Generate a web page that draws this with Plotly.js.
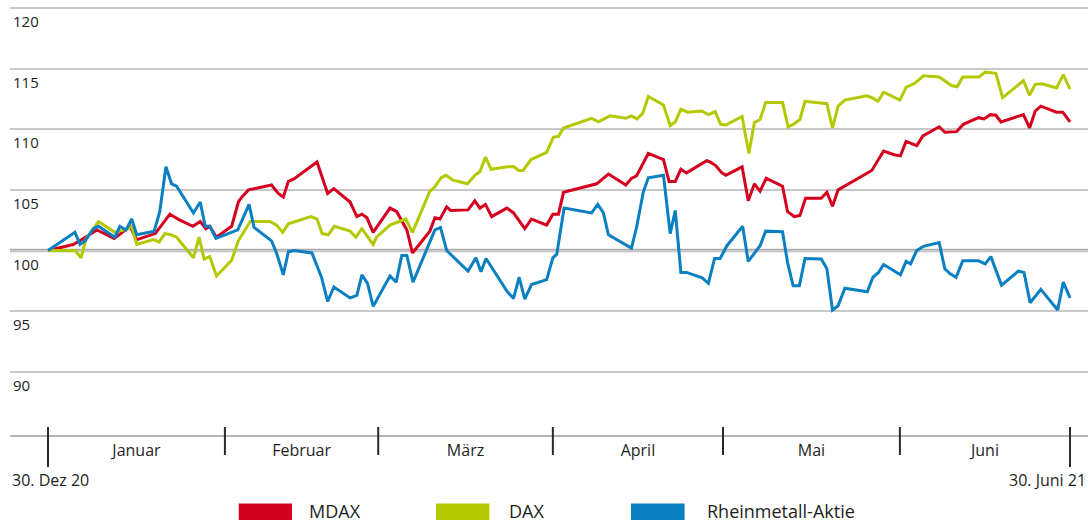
<!DOCTYPE html>
<html>
<head>
<meta charset="utf-8">
<script src="https://cdn.plot.ly/plotly-3.0.1.min.js"></script>
<style>
  html, body { margin: 0; padding: 0; background: #fff; }
  #chart { width: 1090px; height: 524px; }
</style>
</head>
<body>
<div id="chart"></div>
<script>
// x = days since 30 Dec 2020, y = index (30.12.2020 = 100)
const mdaxDays = [0,4.5,6.3,8.7,11.8,14.6,15.8,19.1,21.7,23.5,25.8,27.1,28.1,28.8,30.0,32.7,33.9,34.5,35.7,39.8,41.0,41.9,42.8,43.8,47.9,49.8,50.9,53.8,55.0,55.9,56.8,57.9,60.9,62.1,63.9,64.9,68.0,68.9,69.8,71.0,71.7,74.8,76.0,76.9,77.9,79.0,81.7,82.9,84.9,86.1,88.8,89.9,90.9,91.8,97.7,99.8,102.9,103.9,104.8,106.9,109.6,110.6,111.7,112.7,113.7,117.3,117.9,118.9,120.0,120.7,123.6,124.7,125.8,126.8,127.9,130.8,131.7,132.9,133.9,134.9,137.7,138.7,139.7,140.7,146.7,148.8,150.7,151.8,152.8,154.7,155.8,158.7,159.7,160.8,161.8,163.0,165.7,166.7,167.8,168.8,169.7,173.7,174.8,175.8,176.8,179.6,180.7,182];
const mdaxValues = [100.0,100.5,101.0,101.7,101.0,102.0,100.9,101.4,103.0,102.5,102.0,102.4,101.8,102.0,101.1,102.0,104.0,104.4,105.0,105.4,104.7,104.4,105.7,105.9,107.3,104.7,105.1,104.0,102.8,103.0,102.7,101.5,103.5,103.2,101.7,99.8,101.6,102.7,102.6,103.6,103.3,103.35,104.1,103.5,103.8,102.8,103.5,103.1,101.8,102.6,102.1,103.0,103.0,104.8,105.5,106.3,105.4,105.95,106.15,108.0,107.5,105.7,105.7,106.7,106.4,107.4,107.3,107.0,106.4,106.2,106.9,104.1,105.5,104.9,105.95,105.3,103.2,102.8,102.9,104.3,104.3,104.8,103.65,105.0,106.6,108.2,107.9,107.8,109.0,108.65,109.45,110.2,109.75,109.8,109.8,110.4,110.95,110.85,111.2,111.15,110.6,111.2,110.1,111.5,111.9,111.4,111.4,110.6];

const daxDays = [0,4.8,5.9,6.8,9.0,11.9,14.3,14.9,15.8,18.8,19.8,20.8,21.9,22.9,25.9,26.9,27.8,28.8,30.0,32.7,33.9,36.0,39.5,40.7,41.8,42.8,46.8,47.9,48.8,49.9,51.0,53.8,54.8,55.9,57.9,58.5,60.9,63.7,64.9,68.0,68.8,70.0,70.9,72.1,74.7,76.0,76.9,77.9,78.9,81.8,83.0,83.8,84.6,86.0,88.8,90.0,90.9,91.8,96.8,98.0,100.1,102.9,103.9,104.9,105.9,106.9,109.6,110.8,111.7,112.7,113.9,116.4,117.6,118.8,119.8,120.7,123.6,124.8,125.8,126.8,127.8,130.8,131.8,132.7,133.9,134.8,138.7,139.7,140.7,141.9,145.8,146.7,147.8,148.8,151.7,152.8,154.4,155.9,158.7,160.9,161.9,162.9,165.8,166.9,168.8,170.0,173.7,174.8,175.8,177.0,179.6,180.8,182];
const daxValues = [100.0,100.0,99.4,101.0,102.4,101.5,101.8,102.0,100.5,100.9,100.7,101.4,101.3,101.1,99.4,101.1,99.3,99.5,97.9,99.2,100.8,102.4,102.4,102.1,101.5,102.2,102.8,102.6,101.4,101.3,102.0,101.6,101.1,101.8,100.5,101.1,102.1,102.6,101.5,104.9,105.2,106.0,106.2,105.8,105.5,106.2,106.5,107.7,106.7,106.9,106.9,106.6,106.6,107.5,108.1,109.35,109.4,110.1,110.9,110.6,111.1,110.9,111.1,110.85,111.3,112.7,112.0,110.3,110.6,111.65,111.4,111.5,111.2,111.45,110.4,110.35,111.05,108.0,110.55,110.8,112.2,112.2,110.2,110.4,110.8,112.3,112.1,110.1,111.9,112.4,112.75,112.6,112.3,113.05,112.4,113.45,113.8,114.4,114.3,113.6,113.5,114.3,114.3,114.7,114.6,112.6,114.0,112.8,113.7,113.75,113.4,114.5,113.3];

const rheinDays = [0,4.8,5.7,6.6,8.1,9.0,11.9,12.8,13.9,14.9,15.8,18.9,19.9,21.0,22.0,22.9,25.9,27.1,28.0,28.8,29.9,32.7,33.8,35.8,36.7,39.8,40.7,41.9,42.8,43.8,47.0,48.7,49.8,50.9,53.8,55.0,55.9,56.9,57.9,60.9,62.0,63.0,63.9,65.0,68.9,69.9,71.0,74.8,76.2,77.1,78.0,81.8,82.9,83.9,84.9,86.1,88.8,89.9,90.6,91.9,96.8,97.9,98.9,99.8,103.9,104.8,106.0,106.9,109.6,110.8,111.7,112.7,113.7,116.5,117.6,118.7,119.7,120.9,123.7,124.7,126.8,127.8,130.8,131.7,132.7,133.8,134.8,137.7,138.7,139.7,140.7,141.9,145.9,146.9,147.9,148.8,151.8,152.8,153.6,154.7,155.9,158.7,159.7,160.6,161.7,162.9,165.7,166.9,167.9,169.8,172.8,173.8,174.9,176.8,179.8,180.8,182];
const rheinValues = [100.0,101.5,100.5,100.8,101.8,102.0,101.1,102.0,101.7,102.6,101.3,101.6,103.2,106.9,105.5,105.3,103.1,104.0,102.0,102.0,101.0,101.5,101.7,103.8,101.9,100.8,99.8,98.0,99.9,100.0,99.8,97.8,95.8,97.0,96.1,96.3,98.0,97.3,95.4,97.9,97.4,99.6,99.6,97.4,101.7,101.9,100.0,98.3,99.4,98.25,99.35,96.6,96.05,97.8,96.0,97.2,97.6,99.4,99.7,103.5,103.1,103.8,103.1,101.3,100.2,101.9,104.8,106.0,106.2,101.4,103.3,98.2,98.2,97.75,97.3,99.35,99.35,100.4,102.0,99.1,100.4,101.6,101.55,99.0,97.1,97.1,99.35,99.3,98.5,95.1,95.45,96.9,96.6,97.8,98.2,98.85,98.0,99.1,98.9,100.0,100.35,100.65,98.5,98.1,97.8,99.15,99.15,98.9,99.5,97.15,98.3,98.2,95.7,96.8,95.1,97.4,96.1];

const seriesNames = ["MDAX", "DAX", "Rheinmetall-Aktie"];
const seriesColors = ["#d5001f", "#b4c800", "#0a80c2"];

const monthNames = ["Januar", "Februar", "März", "April", "Mai", "Juni"];
const monthEdges = [0, 31.5, 58.8, 89.9, 120.2, 151.7, 182];
const yTicks = [90, 95, 100, 105, 110, 115, 120];
const startLabel = "30. Dez 20";
const endLabel = "30. Juni 21";

const FONT = '"Open Sans", "Noto Sans", sans-serif';
const TXT = "#1e1e1e";

const xs = [mdaxDays, daxDays, rheinDays];
const ys = [mdaxValues, daxValues, rheinValues];
const traces = seriesNames.map((n, i) => ({
  type: "scatter", mode: "lines", name: n,
  x: xs[i], y: ys[i],
  line: { color: seriesColors[i], width: 3, shape: "linear" },
  showlegend: false, hoverinfo: "skip"
}));

const monthMids = monthNames.map((_, i) => (monthEdges[i] + monthEdges[i + 1]) / 2);

// plot area: top 3px, bottom at 435px (height 432)
const PH = 432;
const py = (px) => (435 - px) / PH;   // pixel row below the plot -> paper y

const shapes = [];
shapes.push({ type: "line", xref: "paper", yref: "y", x0: 0, x1: 1, y0: 100, y1: 100,
  line: { color: "#ababab", width: 3.5 }, layer: "below" });
monthEdges.forEach((e, i) => {
  const outer = (i === 0 || i === monthEdges.length - 1);
  shapes.push({ type: "line", xref: "x", yref: "paper", x0: e, x1: e,
    y0: py(427), y1: outer ? py(467) : py(455),
    line: { color: "#2a2a2a", width: 2 } });
});

const legendRectX = [[0.2122, 0.2616], [0.3952, 0.4447], [0.5761, 0.6258]];
const legendTextX = [0.2755, 0.4610, 0.6444];
const annotations = [];
seriesNames.forEach((n, i) => {
  shapes.push({ type: "rect", xref: "paper", yref: "paper",
    x0: legendRectX[i][0], x1: legendRectX[i][1], y0: py(503.5), y1: py(520),
    fillcolor: seriesColors[i], line: { width: 0 } });
  annotations.push({ xref: "paper", yref: "paper", x: legendTextX[i], y: py(511.5),
    xanchor: "left", yanchor: "middle", showarrow: false, text: n,
    font: { family: FONT, size: 18, color: TXT } });
});
annotations.push({ xref: "paper", yref: "paper", x: 0, y: py(480), xanchor: "left", yanchor: "middle",
  showarrow: false, text: startLabel, font: { family: FONT, size: 16, color: TXT } });
annotations.push({ xref: "paper", yref: "paper", x: 1, y: py(480), xanchor: "right", yanchor: "middle",
  showarrow: false, text: endLabel, font: { family: FONT, size: 16, color: TXT } });

const layout = {
  width: 1090, height: 524,
  margin: { l: 10, r: 2, t: 3, b: 89, pad: 0 },
  paper_bgcolor: "#ffffff", plot_bgcolor: "#ffffff",
  showlegend: false,
  font: { family: FONT, color: TXT },
  xaxis: {
    type: "linear", range: [-6.77, 185.2], fixedrange: true,
    tickmode: "array", tickvals: monthMids, ticktext: monthNames,
    ticks: "", showgrid: false, zeroline: false,
    showline: true, linecolor: "#b4b4b4", linewidth: 2,
    tickfont: { family: FONT, size: 16, color: TXT },
    ticklabelstandoff: 0
  },
  yaxis: {
    type: "linear", range: [84.8, 120.4], fixedrange: true,
    tickmode: "array", tickvals: yTicks, ticktext: yTicks.map(String),
    ticks: "", showgrid: true, gridcolor: "#c8c8c8", gridwidth: 2,
    zeroline: false, showline: false,
    ticklabelposition: "inside", ticklabelshift: 14, ticklabelstandoff: 0,
    tickfont: { family: FONT, size: 15, color: TXT }
  },
  shapes: shapes,
  annotations: annotations
};

Plotly.newPlot("chart", traces, layout, { displayModeBar: false, staticPlot: true });
</script>
</body>
</html>
